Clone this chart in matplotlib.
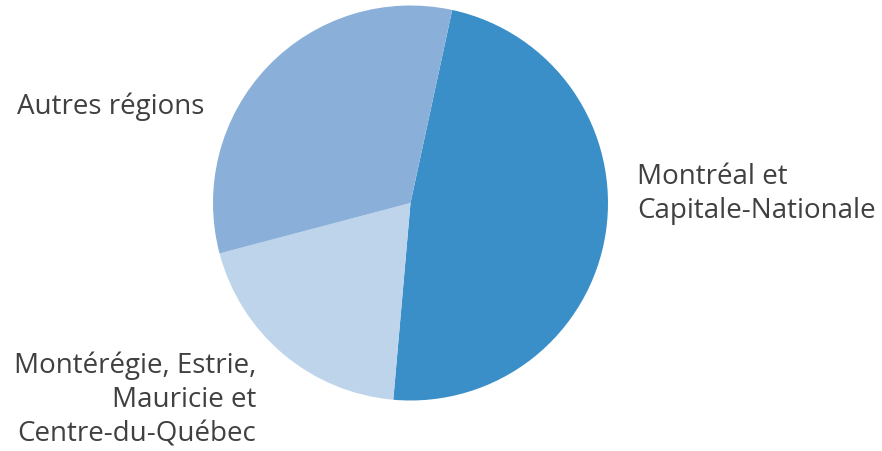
import matplotlib
matplotlib.use('Agg')
import matplotlib.pyplot as plt

plt.rcParams['font.family'] = ['Open Sans', 'DejaVu Sans']

# parts des régions (estimées)
regions = ['Montréal et\nCapitale-Nationale',
           'Montérégie, Estrie,\nMauricie et\nCentre-du-Québec',
           'Autres régions']
parts = [48.0, 19.5, 32.5]
couleurs = ['#3A8FC9', '#BDD4EB', '#8AB0D9']

fig = plt.figure(figsize=(8.82, 4.51), dpi=100)
W, H = 882, 451
cx, cy, r = 410.5, 203, 197.5
ax = fig.add_axes([(cx - r) / W, (H - cy - r) / H, 2 * r / W, 2 * r / H])
ax.pie(parts, colors=couleurs, startangle=77.8, counterclock=False,
       radius=1, wedgeprops=dict(linewidth=0))
ax.set_xlim(-1, 1)
ax.set_ylim(-1, 1)
ax.set_aspect('equal')
ax.axis('off')

txt = dict(fontsize=20, color='#404040', linespacing=1.32)
fig.text(637 / W, 1 - 194 / H, regions[0], ha='left', va='center', **txt)
fig.text(256 / W, 1 - 400 / H, regions[1], ha='right', va='center', **txt)
fig.text(17 / W, 1 - 107 / H, regions[2], ha='left', va='center', **txt)

fig.savefig('out.png', dpi=100)
